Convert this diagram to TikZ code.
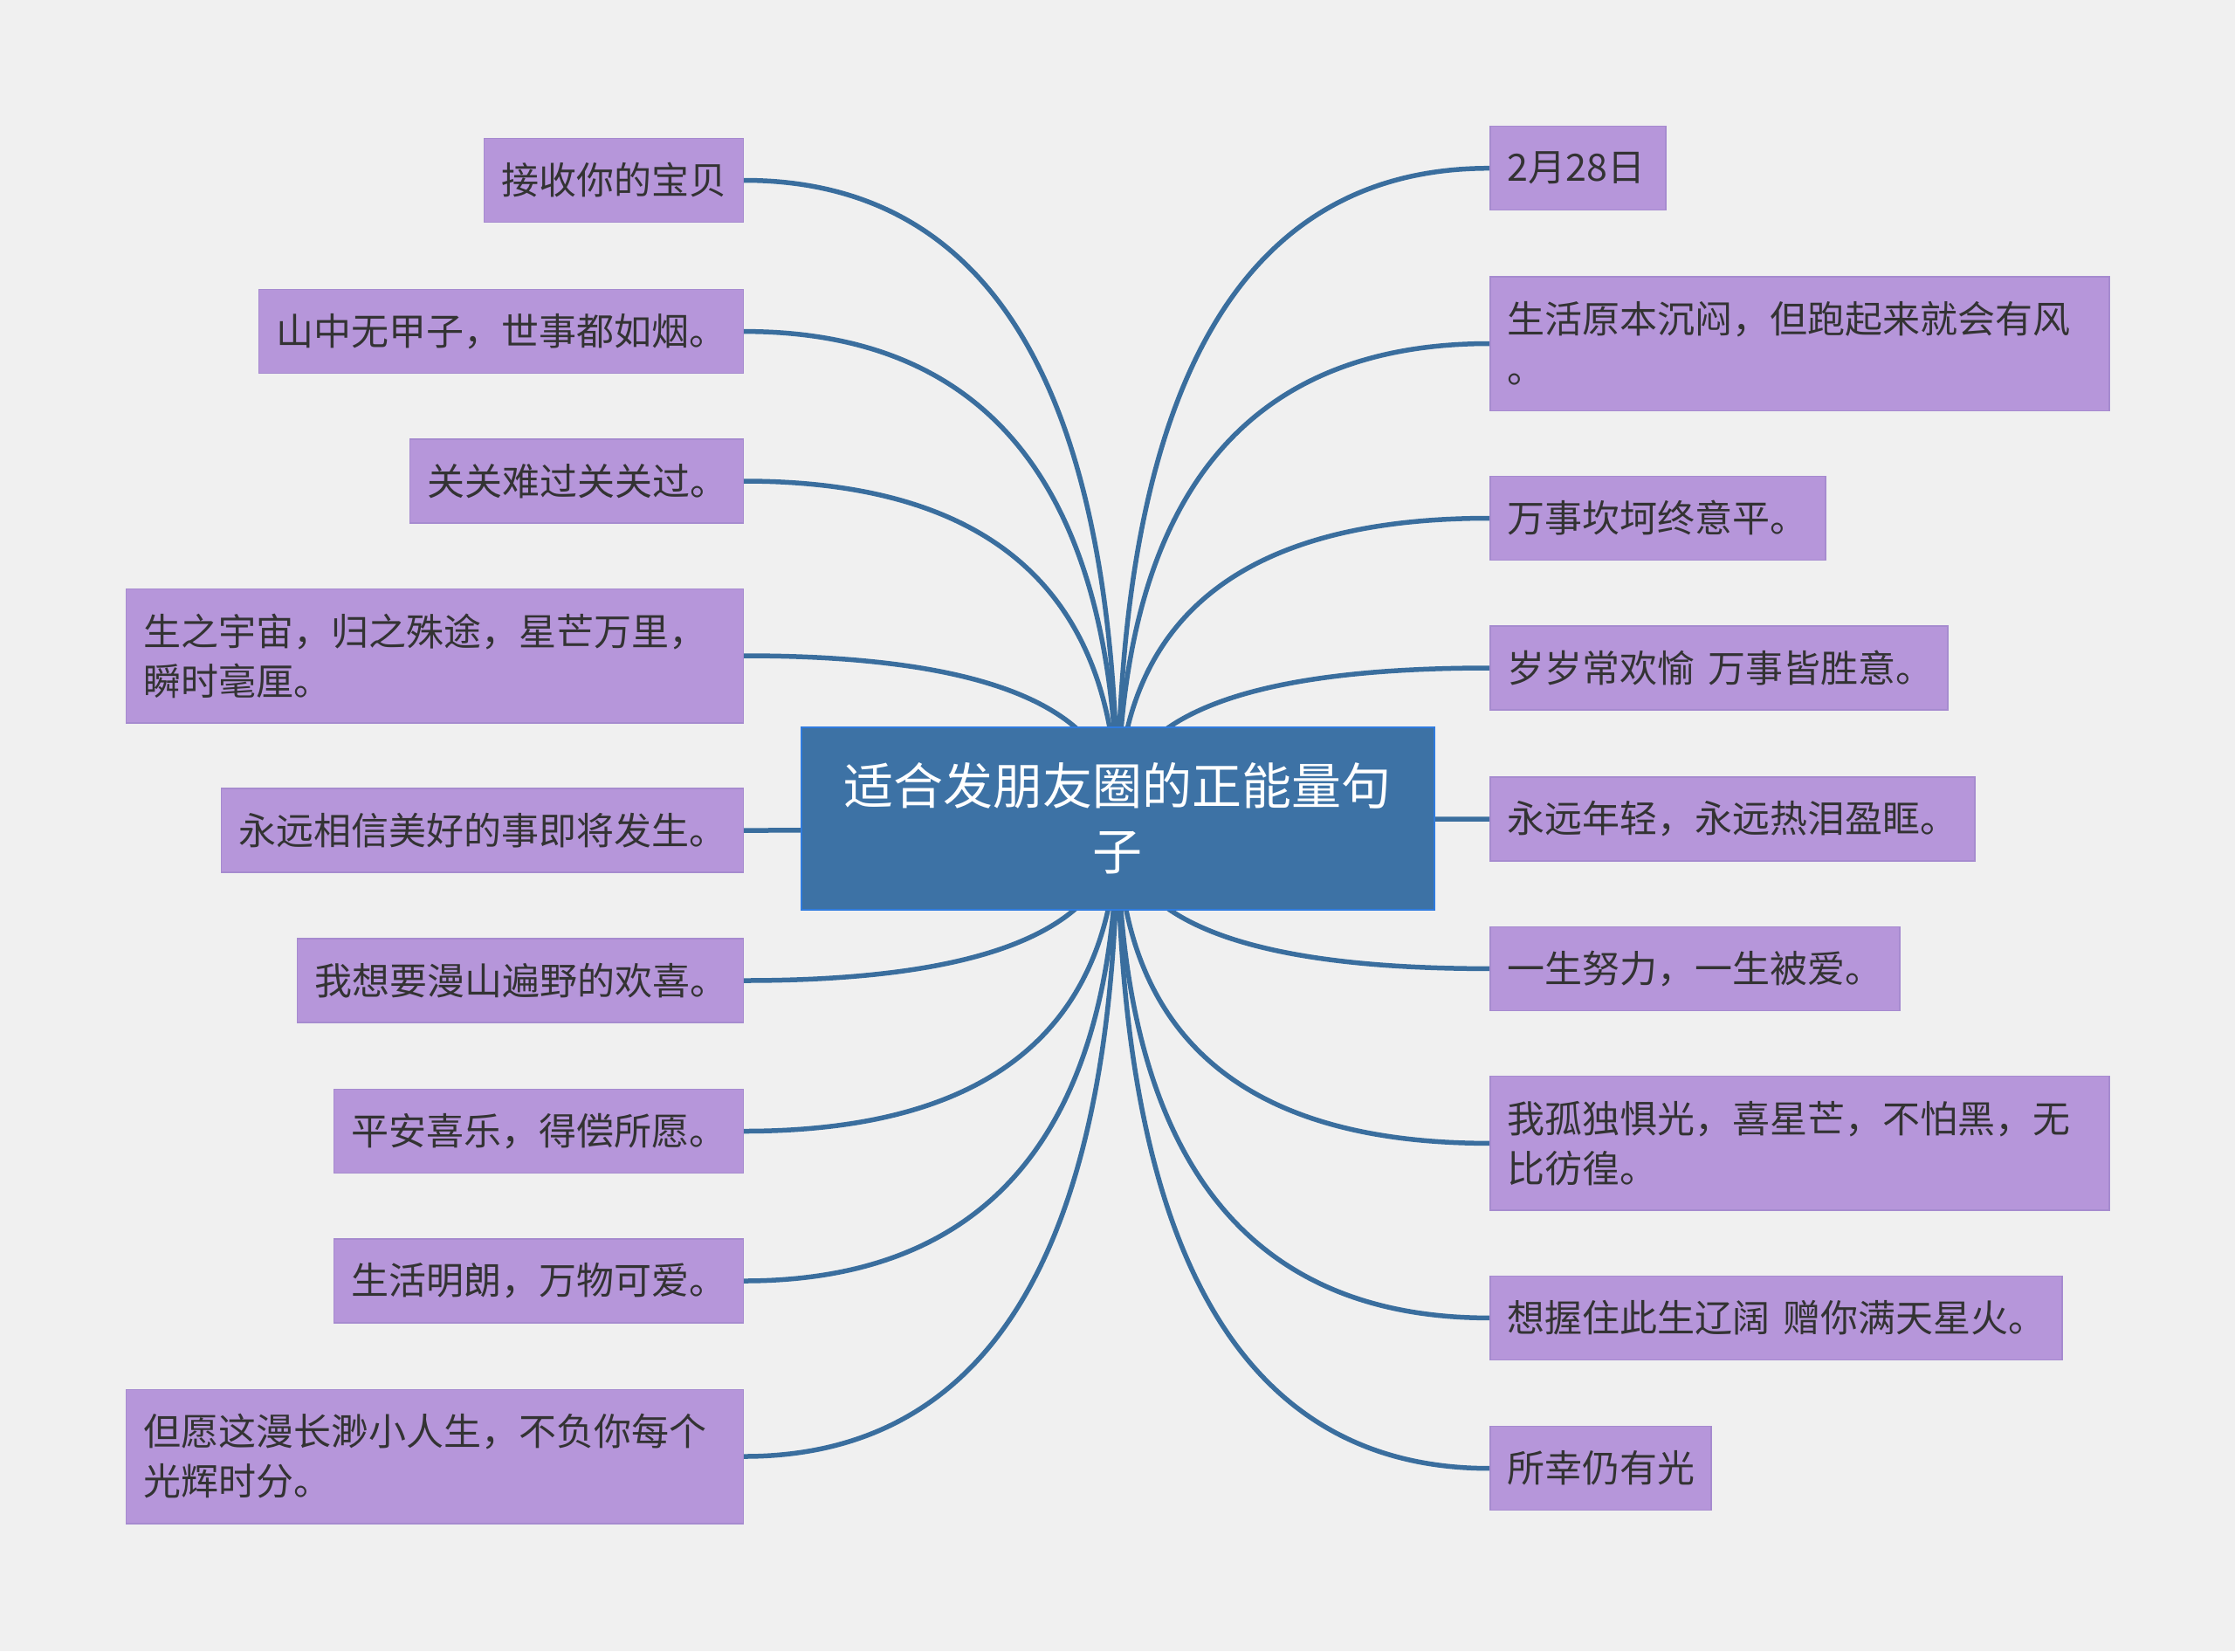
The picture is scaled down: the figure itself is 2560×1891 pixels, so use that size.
\documentclass[tikz,border=0pt]{standalone}
\usepackage{fontspec}
\newfontfamily\cjk{Noto Sans CJK SC}
\usetikzlibrary{calc,backgrounds}
\definecolor{bgc}{HTML}{F0F0F0}
\definecolor{linec}{HTML}{3A6E9E}
\definecolor{rootfill}{HTML}{3D72A5}
\definecolor{rootborder}{HTML}{2F7BDF}
\definecolor{leaffill}{HTML}{B696DA}
\definecolor{leafborder}{HTML}{A68BCF}
\definecolor{leaftext}{HTML}{333333}
\begin{document}
\begin{tikzpicture}[x=1pt,y=-1pt,
  root/.style={draw=rootborder,fill=rootfill,line width=2pt,minimum width=725pt,minimum height=209pt,
    text width=640pt,align=center,text=white,font=\cjk\fontsize{57}{75}\selectfont,inner sep=0pt},
  leaf/.style={draw=leafborder,fill=leaffill,line width=1.5pt,minimum height=96pt,inner xsep=20pt,inner ysep=0pt,
    align=left,text=leaftext,font=\cjk\fontsize{43}{57}\selectfont},
  leafL/.style={leaf,anchor=east},
  leafR/.style={leaf,anchor=west},
  tall/.style={minimum height=153.5pt},
  conn/.style={draw=linec,line width=5.5pt}]
\useasboundingbox (0,0) rectangle (2560,1891);

\node[root] (c) at (1280,937) {适合发朋友圈的正能量句\\子};

% left
\node[leafL,text width=257pt] (L1) at (852,206.5) {接收你的宝贝};
\node[leafL,text width=515pt] (L2) at (852,379.6) {山中无甲子，世事都如烟。};
\node[leafL,text width=342pt] (L3) at (852,551) {关关难过关关过。};
\node[leafL,tall,text width=667pt] (L4) at (852,751) {生之宇宙，归之殊途，星芒万里，\\瞬时毫厘。};
\node[leafL,text width=558pt] (L5) at (852,951) {永远相信美好的事即将发生。};
\node[leafL,text width=471pt] (L6) at (852,1123) {我想要漫山遍野的欢喜。};
\node[leafL,text width=429pt] (L7) at (852,1295.5) {平安喜乐，得偿所愿。};
\node[leafL,text width=429pt] (L8) at (852,1467) {生活明朗，万物可爱。};
\node[leafL,tall,text width=667pt] (L9) at (852,1668) {但愿这漫长渺小人生，不负你每个\\光辉时分。};

% right
\node[leafR,text width=161pt] (R1) at (1706,192.7) {2月28日};
\node[leafR,tall,text width=669pt] (R2) at (1706,393.5) {生活原本沉闷，但跑起来就会有风\\。};
\node[leafR,text width=344pt] (R3) at (1706,593.5) {万事坎坷终意平。};
\node[leafR,text width=484pt] (R4) at (1706,765) {岁岁常欢愉~万事皆胜意。};
\node[leafR,text width=515pt] (R5) at (1706,938) {永远年轻，永远热泪盈眶。};
\node[leafR,text width=429pt] (R6) at (1706,1109.4) {一生努力，一生被爱。};
\node[leafR,tall,text width=669pt] (R7) at (1706,1309.4) {我孤独惧光，喜星芒，不怕黑，无\\比彷徨。};
\node[leafR,text width=615pt] (R8) at (1706,1509.4) {想握住此生辽阔~赠你满天星火。};
\node[leafR,text width=213pt] (R9) at (1706,1681.7) {所幸仍有光};

\begin{scope}[on background layer]
  \fill[bgc] (0,0) rectangle (2560,1891);
  \foreach \n in {L1,L2,L3,L4,L5,L6,L7,L8,L9}{
    \draw[conn] (c.center) .. controls ($(c.center)!2/3!(c.center |- \n.east)$) and ($(\n.east)!2/3!(c.center |- \n.east)$) .. (\n.east);
  }
  \foreach \n in {R1,R2,R3,R4,R5,R6,R7,R8,R9}{
    \draw[conn] (c.center) .. controls ($(c.center)!2/3!(c.center |- \n.west)$) and ($(\n.west)!2/3!(c.center |- \n.west)$) .. (\n.west);
  }
\end{scope}
\end{tikzpicture}
\end{document}
